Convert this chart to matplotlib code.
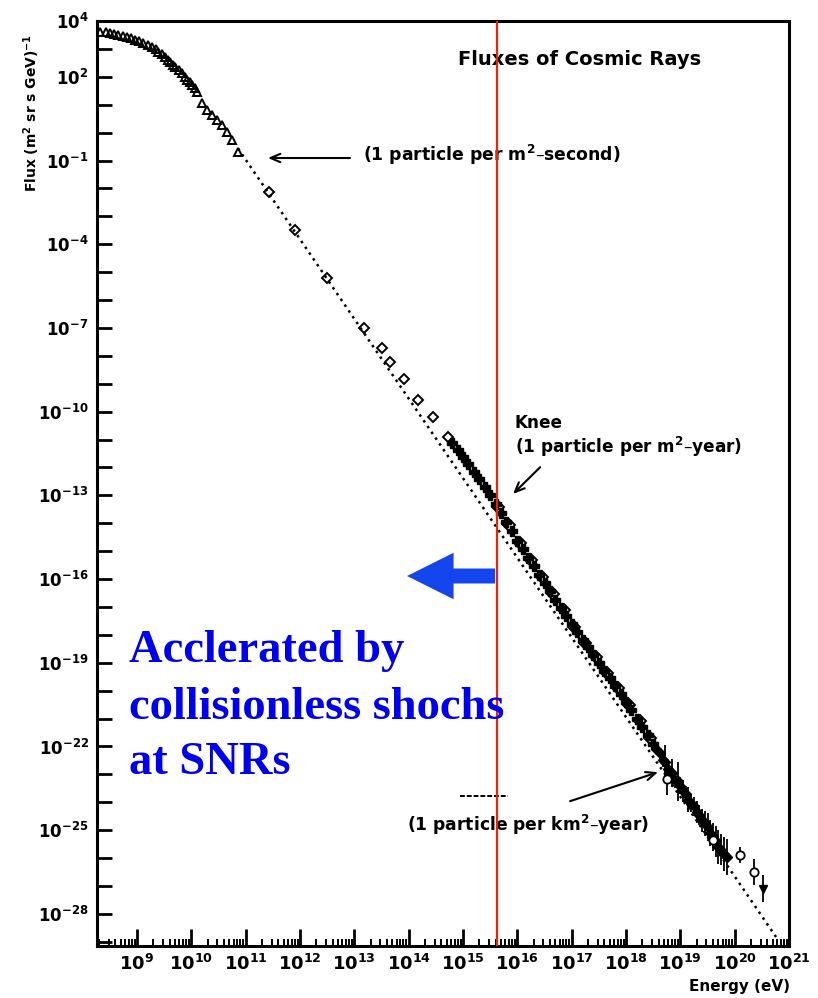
import numpy as np
import matplotlib
matplotlib.use("Agg")
import matplotlib.pyplot as plt
from matplotlib.ticker import FixedLocator, FixedFormatter, NullFormatter

plt.rcParams["font.family"] = ["DejaVu Sans"]
plt.rcParams["mathtext.fontset"] = "dejavusans"
plt.rcParams["mathtext.default"] = "bf"

# ---- data: log10(E / eV) and log10(flux / (m^2 sr s GeV)^-1) ----
# low-energy direct measurements (open triangles)
tri_logE = [8.32, 8.42, 8.50, 8.58, 8.65, 8.74, 8.82, 8.89, 8.96, 9.04, 9.11,
            9.20, 9.28, 9.34, 9.39, 9.46, 9.52, 9.57, 9.61, 9.66, 9.70, 9.77,
            9.83, 9.88, 9.92, 9.97, 10.01, 10.06, 10.10, 10.20, 10.29, 10.38,
            10.47, 10.57, 10.66, 10.75, 10.86]
tri_logF = [3.61, 3.59, 3.57, 3.54, 3.50, 3.47, 3.43, 3.38, 3.32, 3.27, 3.21,
            3.14, 3.07, 2.98, 2.89, 2.80, 2.71, 2.62, 2.53, 2.44, 2.35, 2.25,
            2.14, 2.01, 1.89, 1.80, 1.71, 1.59, 1.46, 1.06, 0.81, 0.63,
            0.45, 0.27, 0.02, -0.27, -0.70]

# intermediate energies (open diamonds)
dia_logE = [11.42, 11.91, 12.49, 13.17, 13.51, 13.65, 13.92, 14.18, 14.45, 14.73]
dia_logF = [-2.12, -3.49, -5.22, -7.01, -7.73, -8.21, -8.84, -9.58, -10.20, -10.90]

# air-shower measurements around the knee (crosses)
knee_logE = [14.8, 14.9, 15.0, 15.1, 15.2, 15.3, 15.4, 15.5, 15.6, 15.7,
             15.8, 15.9, 16.0, 16.1, 16.2, 16.3, 16.4, 16.5, 16.6, 16.7,
             16.8, 16.9, 17.0, 17.1, 17.2, 17.3, 17.4, 17.5, 17.6, 17.7,
             17.8, 17.9, 18.0, 18.1, 18.2, 18.3, 18.4, 18.5]
knee_logF = [-11.12, -11.38, -11.62, -11.88, -12.17, -12.43, -12.70, -12.98, -13.30, -13.62,
             -13.95, -14.29, -14.62, -14.93, -15.23, -15.54, -15.84, -16.14, -16.44, -16.74,
             -17.03, -17.33, -17.62, -17.90, -18.17, -18.45, -18.72, -19.00, -19.28, -19.56,
             -19.84, -20.12, -20.40, -20.70, -21.00, -21.30, -21.60, -21.90]

# second air-shower data set (open diamonds)
eas_logE = [15.65, 15.85, 16.05, 16.25, 16.45, 16.65, 16.85, 17.05, 17.25, 17.45,
            17.65, 17.85, 18.05, 18.25, 18.45]
eas_logF = [-13.40, -14.05, -14.70, -15.30, -15.92, -16.55, -17.12, -17.70, -18.28, -18.80,
            -19.38, -19.92, -20.50, -21.10, -21.70]

# ultra-high energies with error bars (log10 half-width)
uhe_logE = [18.55, 18.62, 18.68, 18.72, 18.78, 18.85, 18.90, 18.95, 19.00, 19.05,
            19.10, 19.15, 19.20, 19.25, 19.30, 19.35, 19.40, 19.45, 19.50, 19.55,
            19.60, 19.65, 19.70, 19.75, 19.80, 19.85]
uhe_logF = [-22.10, -22.25, -22.50, -22.55, -22.80, -22.95, -23.20, -23.25, -23.40, -23.60,
            -23.70, -23.90, -24.05, -24.15, -24.35, -24.45, -24.65, -24.75, -24.90, -25.10,
            -25.25, -25.40, -25.60, -25.70, -25.85, -25.95]
uhe_err = [0.15, 0.20, 0.25, 0.60, 0.30, 0.50, 0.30, 0.70, 0.30, 0.40,
           0.30, 0.45, 0.30, 0.35, 0.40, 0.35, 0.40, 0.45, 0.50, 0.45,
           0.50, 0.55, 0.60, 0.55, 0.60, 0.65]

# highest-energy events (open circles, error bars)
top_logE = [18.75, 19.61, 20.10, 20.35]
top_logF = [-23.15, -25.35, -25.89, -26.49]
top_err = [0.60, 0.30, 0.30, 0.47]

# single point shown as a downward triangle
last_logE = [20.53]
last_logF = [-27.09]
last_err = [0.50]

# power-law reference line (end points)
fit_logE = [10.86, 20.78]
fit_logF = [-0.57, -28.88]

# knee position
knee_E = 15.63

# axis tick decades
x_decades = list(range(9, 22))
y_decades = list(range(-29, 5))
y_labeled = [4, 2, -1, -4, -7, -10, -13, -16, -19, -22, -25, -28]


def p10(v):
    return np.power(10.0, np.asarray(v, dtype=float))


W, H = 818, 998
fig = plt.figure(figsize=(W / 100, H / 100), dpi=100)
ax = fig.add_axes([97 / W, 52 / H, 692 / W, 925 / H])
ax.set_xscale("log")
ax.set_yscale("log")
ax.set_xlim(10 ** 8.263, 10 ** 21.0)
ax.set_ylim(10 ** -29.15, 10 ** 4.0)

# reference power law
ax.plot(p10(fit_logE), p10(fit_logF), color="black", lw=1.8,
        linestyle=(0, (1.0, 1.8)), zorder=2)

mk = dict(color="black", mfc="none", mec="black", mew=1.4, linestyle="none", zorder=3)
ax.plot(p10(tri_logE), p10(tri_logF), marker="^", ms=6, **mk)
ax.plot(p10(dia_logE), p10(dia_logF), marker="D", ms=5.5, **mk)
ax.plot(p10(knee_logE), p10(knee_logF), marker="P", ms=7.5, color="black",
        mfc="black", mec="black", linestyle="none", zorder=3)
ax.plot(p10(eas_logE), p10(eas_logF), marker="D", ms=6, **mk)

uE = p10(uhe_logE)
uF = p10(uhe_logF)
ue = np.asarray(uhe_err)
ax.errorbar(uE, uF, yerr=[uF - uF * 10 ** -ue, uF * 10 ** ue - uF], fmt="D",
            ms=5.5, mfc="black", mec="black", ecolor="black", elinewidth=1.3,
            capsize=0, zorder=3)
tE = p10(top_logE)
tF = p10(top_logF)
te = np.asarray(top_err)
ax.errorbar(tE, tF, yerr=[tF - tF * 10 ** -te, tF * 10 ** te - tF], fmt="o",
            ms=6, mfc="white", mec="black", mew=1.3, ecolor="black",
            elinewidth=1.3, capsize=0, zorder=4)
lE = p10(last_logE)
lF = p10(last_logF)
le = np.asarray(last_err)
ax.errorbar(lE, lF, yerr=[lF - lF * 10 ** -le, lF * 10 ** le - lF], fmt="v",
            ms=6, mfc="black", mec="black", ecolor="black", elinewidth=1.3,
            capsize=0, zorder=4)

# ticks
ax.xaxis.set_major_locator(FixedLocator(p10(x_decades)))
ax.xaxis.set_major_formatter(FixedFormatter([r"$10^{%d}$" % d for d in x_decades]))
xminor = [m * 10.0 ** d for d in range(8, 21) for m in range(2, 10)]
ax.xaxis.set_minor_locator(FixedLocator(xminor))
ax.xaxis.set_minor_formatter(NullFormatter())
ax.yaxis.set_major_locator(FixedLocator(p10(y_decades)))
ax.yaxis.set_major_formatter(FixedFormatter(
    [(r"$10^{%d}$" % d) if d in y_labeled else "" for d in y_decades]))
ax.yaxis.set_minor_locator(FixedLocator([]))
ax.tick_params(which="major", direction="in", length=11, width=2.0,
               labelsize=12, pad=6, top=False, right=False)
ax.tick_params(axis="x", which="major", labelsize=13, length=12)
ax.tick_params(which="minor", direction="in", length=5, width=1.4,
               top=False, right=False)
for s in ax.spines.values():
    s.set_linewidth(2.2)

# knee marker
ax.axvline(10 ** knee_E, color="#e8230f", lw=1.6, zorder=6)

# annotations
ax.text(0.698, 0.958, "Fluxes of Cosmic Rays", transform=ax.transAxes,
        ha="center", va="center", fontsize=14, weight="bold")
ax.text(0.384, 0.855, r"(1 particle per m$^2$–second)", transform=ax.transAxes,
        ha="left", va="center", fontsize=12.4, weight="bold")
ax.text(0.604, 0.565, "Knee", transform=ax.transAxes,
        ha="left", va="center", fontsize=12.2, weight="bold")
ax.text(0.604, 0.539, r"(1 particle per m$^2$–year)", transform=ax.transAxes,
        ha="left", va="center", fontsize=12.2, weight="bold")
ax.text(0.448, 0.131, r"(1 particle per km$^2$–year)", transform=ax.transAxes,
        ha="left", va="center", fontsize=12.3, weight="bold")
ax.plot([0.5246, 0.594], [0.162, 0.162], transform=ax.transAxes, color="black",
        lw=1.4, linestyle=(0, (2.5, 1.0)))

arr = dict(arrowstyle="->,head_length=0.7,head_width=0.3", lw=1.5,
           color="black", shrinkA=0, shrinkB=0)
ax.annotate("", xy=(10 ** 11.41, 10 ** -0.91), xytext=(10 ** 12.92, 10 ** -0.91),
            arrowprops=arr)
ax.annotate("", xy=(10 ** 15.92, 10 ** -12.95), xytext=(10 ** 16.42, 10 ** -11.99),
            arrowprops=arr)
ax.annotate("", xy=(10 ** 18.59, 10 ** -22.92), xytext=(10 ** 16.97, 10 ** -23.96),
            arrowprops=arr)

# blue arrow and caption
ax.annotate("", xy=(10 ** 13.97, 10 ** -15.89), xytext=(10 ** 15.59, 10 ** -15.89),
            arrowprops=dict(arrowstyle="simple,head_length=3.1,head_width=3.1,tail_width=1.0",
                            mutation_scale=10.8, color="#1446ee", lw=0,
                            shrinkA=0, shrinkB=0), zorder=7)
for line, yb in zip(["Acclerated by", "collisionless shochs", "at SNRs"], [662, 719, 774]):
    fig.text(129 / W, 1 - yb / H, line, ha="left", va="baseline",
             fontsize=33.5, weight="bold", family="Liberation Serif", color="#0000f0")

# axis labels
fig.text(32 / W, 1 - 113 / H, r"Flux (m$^2$ sr s GeV)$^{-1}$", rotation=90,
         ha="center", va="center", fontsize=10, weight="bold")
fig.text(790 / W, 1 - 986 / H, "Energy (eV)", ha="right", va="center",
         fontsize=11, weight="bold")

fig.savefig("out.png", dpi=100)
